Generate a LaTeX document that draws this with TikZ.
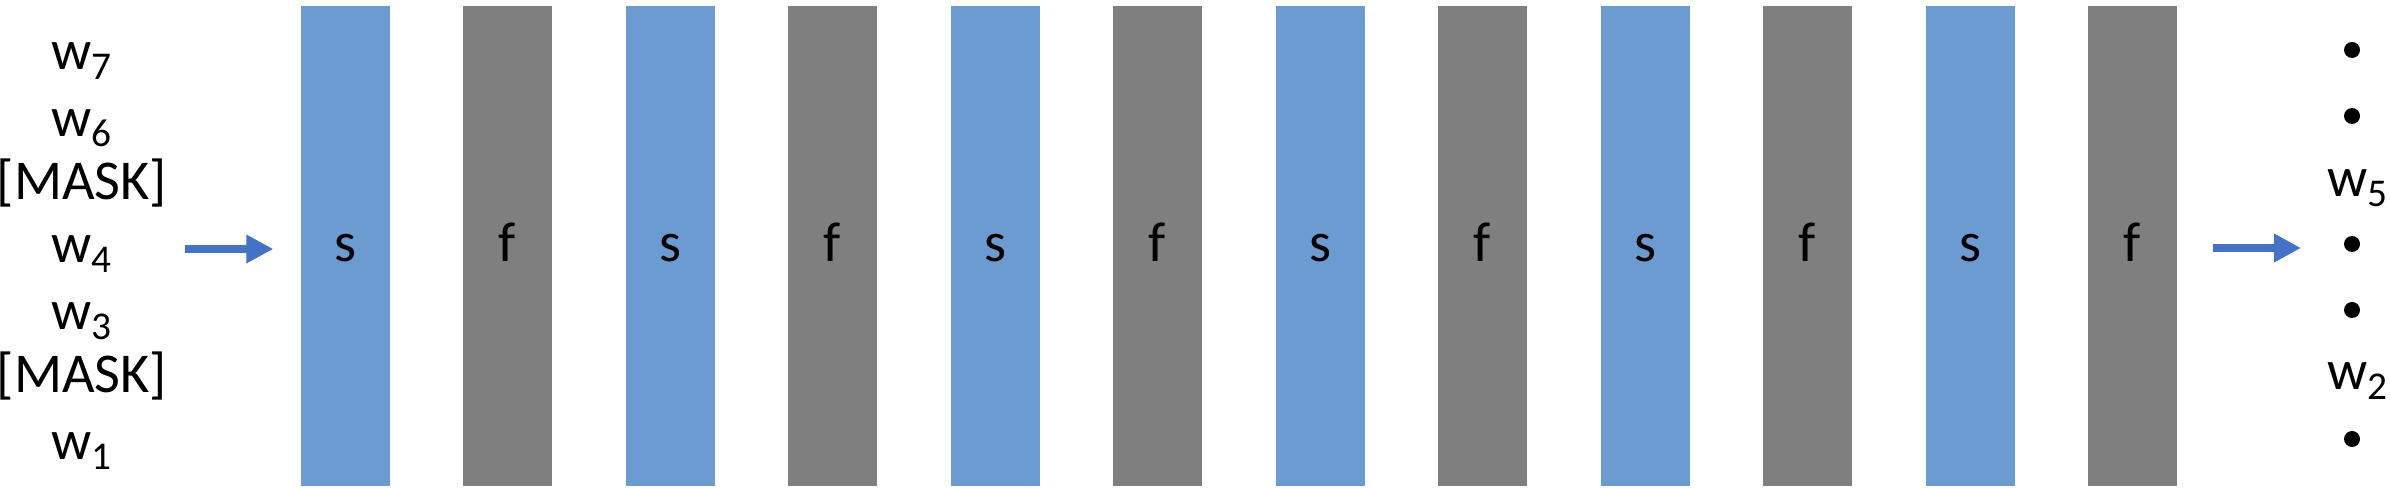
\documentclass[tikz,border=0pt]{standalone}
\usepackage{fontspec}
\setmainfont{Carlito}
\usetikzlibrary{%
  arrows,%
  arrows.meta,%
  positioning% wg. " of "
}
\definecolor{barblue}{HTML}{6C9BD2}
\definecolor{bargray}{HTML}{7F7F7F}
\definecolor{arrblue}{HTML}{4472C4}
\newcommand{\wsub}[1]{w\textsubscript{#1}}

\begin{document}
\begin{tikzpicture}
[font=\fontsize{16pt}{19pt}\selectfont,
sbar/.style={rectangle, fill=barblue, inner sep=0pt, minimum width=8.9mm, minimum height=48mm, text height=3.2mm, text depth=0pt},
fbar/.style={rectangle, fill=bargray, inner sep=0pt, minimum width=8.9mm, minimum height=48mm, text height=3.2mm, text depth=0pt},
word/.style={anchor=base, inner sep=0pt},
dot/.style={circle, fill=black, inner sep=0pt, minimum size=1.6mm},
flow/.style={draw=arrblue, line width=0.8mm, -{Triangle[length=2.7mm,width=2.7mm]}}]

\useasboundingbox (0,0) rectangle (23.9,4.88);

\node[word] (w7) at (0.82,4.18) {\wsub{7}};
\node[word] (w6) at (0.82,3.51) {\wsub{6}};
\node[word] (m5) at (0.82,2.88) {[MASK]};
\node[word] (w4) at (0.82,2.25) {\wsub{4}};
\node[word] (w3) at (0.82,1.58) {\wsub{3}};
\node[word] (m2) at (0.82,0.95) {[MASK]};
\node[word] (w1) at (0.82,0.28) {\wsub{1}};

\node[sbar] (s1) at (3.455,2.42) {s};
\node[fbar] (f1) at (5.075,2.42) {f};
\node[sbar] (s2) at (6.705,2.42) {s};
\node[fbar] (f2) at (8.325,2.42) {f};
\node[sbar] (s3) at (9.955,2.42) {s};
\node[fbar] (f3) at (11.575,2.42) {f};
\node[sbar] (s4) at (13.205,2.42) {s};
\node[fbar] (f4) at (14.825,2.42) {f};
\node[sbar] (s5) at (16.455,2.42) {s};
\node[fbar] (f5) at (18.075,2.42) {f};
\node[sbar] (s6) at (19.705,2.42) {s};
\node[fbar] (f6) at (21.325,2.42) {f};

\node[dot] (d1) at (23.52,4.38) {};
\node[dot] (d2) at (23.52,3.72) {};
\node[word] (o5) at (23.58,2.91) {\wsub{5}};
\node[dot] (d3) at (23.52,2.44) {};
\node[dot] (d4) at (23.52,1.78) {};
\node[word] (o2) at (23.58,0.98) {\wsub{2}};
\node[dot] (d5) at (23.52,0.49) {};

\coordinate (in) at (1.85,2.39);
\coordinate (out) at (23.01,2.40);
\draw[flow, shorten >=2.7mm] (in) -- (in -| s1.west);
\draw[flow, shorten <=3.5mm] (out -| f6.east) -- (out);
\end{tikzpicture}
\end{document}
